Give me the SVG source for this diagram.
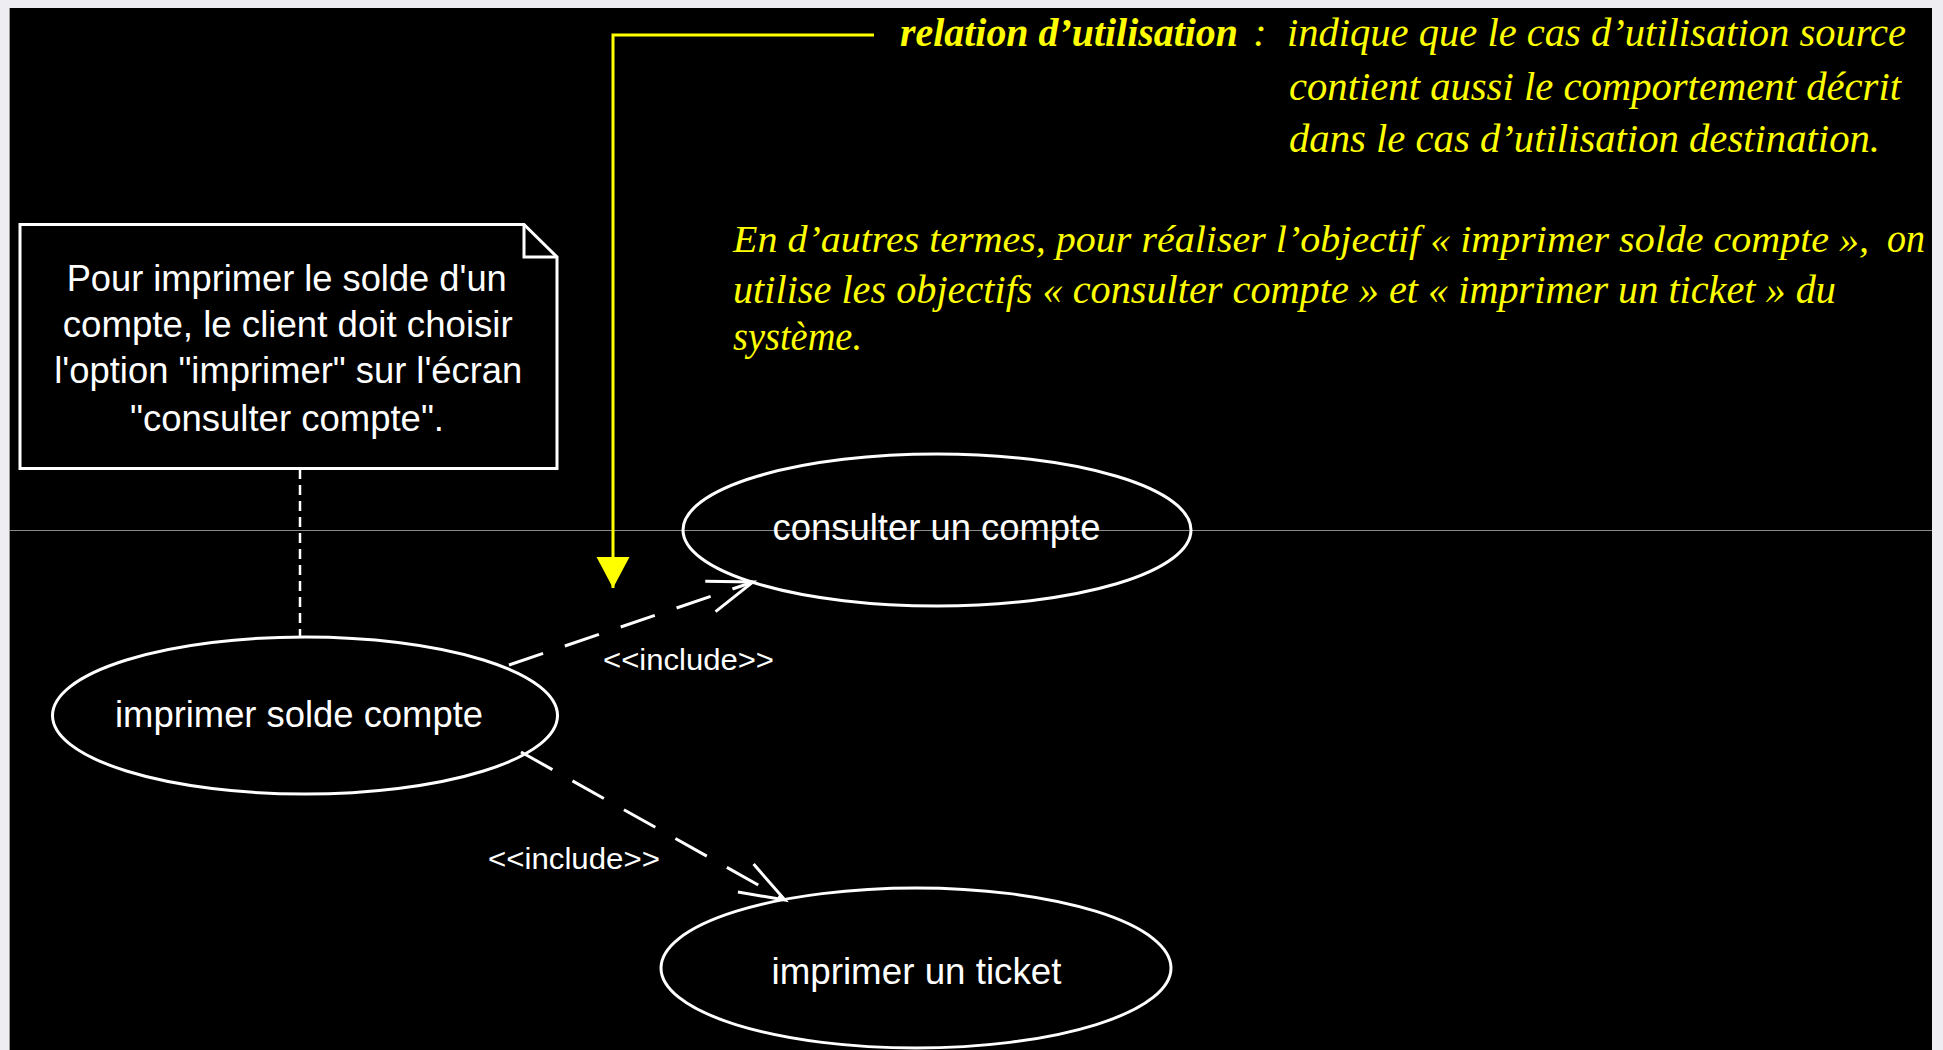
<svg xmlns="http://www.w3.org/2000/svg" width="1943" height="1050" viewBox="0 0 1943 1050">
  <style>
    .w { fill: #ffffff; font-family: "Liberation Sans", Arial, sans-serif; font-size: 36px; }
    .lbl { fill: #ffffff; font-family: "Liberation Sans", Arial, sans-serif; font-size: 30px; }
    .y { fill: #ffff00; font-family: "Liberation Serif", "Times New Roman", serif; font-style: italic; font-size: 41px; }
    .ys { font-size: 37px; }
    .yb { font-weight: bold; }
    .shape { fill: none; stroke: #ffffff; stroke-width: 3; }
    .dash { fill: none; stroke: #ffffff; stroke-width: 3; stroke-dasharray: 36 23; }
    .notelink { fill: none; stroke: #ffffff; stroke-width: 2.5; stroke-dasharray: 10 6; }
    .ylink { fill: none; stroke: #ffff00; stroke-width: 3; }
  </style>
  <defs>
    <marker id="open" markerUnits="userSpaceOnUse" orient="auto" refX="0" refY="0" markerWidth="60" markerHeight="40" viewBox="-50 -20 54 40" overflow="visible">
      <path d="M-45,-16 L0,0 L-45,16" fill="none" stroke="#ffffff" stroke-width="3"/>
    </marker>
    <marker id="yarrow" markerUnits="userSpaceOnUse" orient="auto" refX="0" refY="0" markerWidth="40" markerHeight="40" viewBox="-35 -20 40 40" overflow="visible">
      <path d="M0,0 L-31,-16.5 L-31,16.5 Z" fill="#ffff00"/>
    </marker>
  </defs>

  <rect x="0" y="0" width="1943" height="1050" fill="#eeeef2"/>
  <rect x="10" y="8" width="1922" height="1042" fill="#000000"/>
  <line x1="9.5" y1="8" x2="9.5" y2="1050" stroke="#9a9a9a" stroke-width="1"/>
  <line x1="10" y1="530.5" x2="1932" y2="530.5" stroke="#8a8a8a" stroke-width="1"/>

  <g id="connectors">
    <path class="ylink" d="M874,35 H613 V588" marker-end="url(#yarrow)"/>
    <path class="dash" d="M509,665 L753,582" marker-end="url(#open)"/>
    <path class="dash" d="M521,752 L785,900" marker-end="url(#open)"/>
    <path class="notelink" d="M300,469 V637"/>
    <text class="lbl" x="603" y="670" textLength="171" lengthAdjust="spacingAndGlyphs">&lt;&lt;include&gt;&gt;</text>
    <text class="lbl" x="488" y="869" textLength="172" lengthAdjust="spacingAndGlyphs">&lt;&lt;include&gt;&gt;</text>
  </g>

  <g id="legend">
    <text class="y yb" x="900" y="46" textLength="338" lengthAdjust="spacingAndGlyphs">relation d’utilisation</text>
    <text class="y" x="1253" y="46">:</text>
    <text class="y" x="1287" y="46" textLength="619" lengthAdjust="spacingAndGlyphs">indique que le cas d’utilisation source</text>
    <text class="y" x="1289" y="100" textLength="612" lengthAdjust="spacingAndGlyphs">contient aussi le comportement décrit</text>
    <text class="y" x="1289" y="152" textLength="591" lengthAdjust="spacingAndGlyphs">dans le cas d’utilisation destination.</text>
    <text class="y ys" x="733" y="252" textLength="1136" lengthAdjust="spacingAndGlyphs">En d’autres termes, pour réaliser l’objectif « imprimer  solde compte »,</text>
    <text class="y" x="1887" y="252" textLength="38" lengthAdjust="spacingAndGlyphs">on</text>
    <text class="y" x="733" y="303" textLength="1103" lengthAdjust="spacingAndGlyphs">utilise les objectifs « consulter compte » et « imprimer un ticket » du</text>
    <text class="y" x="733" y="350" textLength="129" lengthAdjust="spacingAndGlyphs">système.</text>
  </g>

  <g id="note">
    <path class="shape" d="M20,224.5 H524 L557,257 V468.5 H20 Z"/>
    <path class="shape" d="M524,224.5 V257 H557"/>
    <text class="w" x="66.7" y="291" textLength="440" lengthAdjust="spacingAndGlyphs">Pour imprimer le solde d'un</text>
    <text class="w" x="62.7" y="337" textLength="450" lengthAdjust="spacingAndGlyphs">compte, le client doit choisir</text>
    <text class="w" x="54.3" y="383" textLength="468" lengthAdjust="spacingAndGlyphs">l'option "imprimer" sur l'écran</text>
    <text class="w" x="130" y="431" textLength="314" lengthAdjust="spacingAndGlyphs">"consulter compte".</text>
  </g>

  <g id="uc-consulter">
    <ellipse class="shape" cx="937" cy="530" rx="254" ry="76"/>
    <text class="w" x="772.5" y="540" textLength="328" lengthAdjust="spacingAndGlyphs">consulter un compte</text>
  </g>

  <g id="uc-imprimer-solde">
    <ellipse class="shape" cx="305" cy="715.5" rx="252.5" ry="78.5"/>
    <text class="w" x="115" y="727" textLength="368" lengthAdjust="spacingAndGlyphs">imprimer solde compte</text>
  </g>

  <g id="uc-ticket">
    <ellipse class="shape" cx="916" cy="968" rx="255" ry="80"/>
    <text class="w" x="771.5" y="984" textLength="290" lengthAdjust="spacingAndGlyphs">imprimer un ticket</text>
  </g>
</svg>
